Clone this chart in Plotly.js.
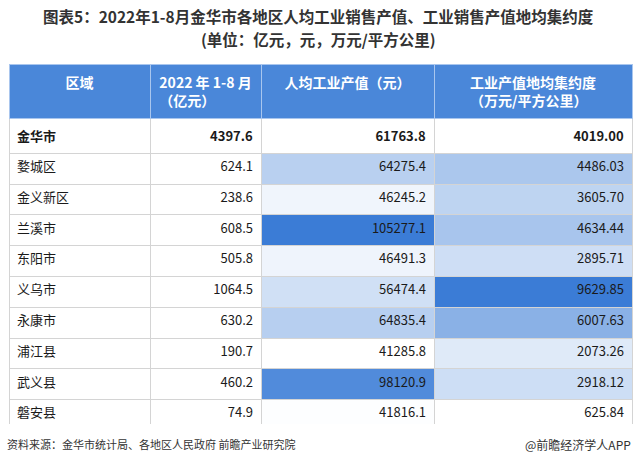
<!DOCTYPE html>
<html>
<head>
<meta charset="utf-8">
<script src="https://cdn.plot.ly/plotly-3.0.1.min.js"></script>
<style>html,body{margin:0;padding:0;background:#fff;}#chart{width:637px;height:466px;}</style>
</head>
<body>
<div id="chart"></div>
<script>
const headers = ['区域', '2022 年 1-8 月<br>（亿元）', '人均工业产值（元）', '工业产值地均集约度<br>（万元/平方公里）'];
const regions = ['金华市', '婺城区', '金义新区', '兰溪市', '东阳市', '义乌市', '永康市', '浦江县', '武义县', '磐安县'];
const salesValue = [4397.6, 624.1, 238.6, 608.5, 505.8, 1064.5, 630.2, 190.7, 460.2, 74.9];
const perCapita = [61763.8, 64275.4, 46245.2, 105277.1, 46491.3, 56474.4, 64835.4, 41285.8, 98120.9, 41816.1];
const intensity = [4019.00, 4486.03, 3605.70, 4634.44, 2895.71, 9629.85, 6007.63, 2073.26, 2918.12, 625.84];

const dark = [59, 124, 214];
function scaleColors(arr) {
  const sub = arr.slice(1);
  const mn = Math.min(...sub), mx = Math.max(...sub);
  return arr.map((v, i) => {
    if (i === 0) return '#ffffff';
    const t = (v - mn) / (mx - mn);
    const c = dark.map(d => Math.round(255 - t * (255 - d)));
    return 'rgb(' + c.join(',') + ')';
  });
}
const fmt = (arr, d) => arr.map((v, i) => i === 0 ? '<b>' + v.toFixed(d) + '</b>' : v.toFixed(d));
const regionText = regions.map((r, i) => i === 0 ? '<b>' + r + '</b>' : r);
const white = regions.map(() => '#ffffff');

const W = 637, H = 466;
const FONT = 'Noto Sans CJK SC, sans-serif';
const data = [{
  type: 'table',
  domain: {x: [9 / W, 632 / W], y: [1 - 424 / H, 1 - 64 / H]},
  columnwidth: [141, 111, 173, 198],
  header: {
    values: headers.map(h => '<b>' + h + '</b>'),
    fill: {color: '#4a87d9'},
    line: {color: '#a9c6ee', width: 1},
    align: 'center',
    height: 50,
    font: {family: FONT, size: 14, color: '#ffffff'}
  },
  cells: {
    values: [regionText, fmt(salesValue, 1), fmt(perCapita, 1), fmt(intensity, 2)],
    fill: {color: [white, white, scaleColors(perCapita), scaleColors(intensity)]},
    line: {color: '#d4d4d4', width: 1},
    align: ['left', 'right', 'right', 'right'],
    height: 30.8,
    font: {family: FONT, size: 13, color: '#1a1a1a'}
  }
}];

const layout = {
  width: W, height: H,
  margin: {l: 0, r: 0, t: 0, b: 0},
  paper_bgcolor: '#ffffff',
  annotations: [
    {text: '<b>图表5：2022年1-8月金华市各地区人均工业销售产值、工业销售产值地均集约度</b>', xref: 'paper', yref: 'paper',
     x: 0.5, y: 1 - 16.5 / H, xanchor: 'center', yanchor: 'middle', showarrow: false,
     font: {family: FONT, size: 15.5, color: '#333333'}},
    {text: '<b>(单位：亿元，元，万元/平方公里)</b>', xref: 'paper', yref: 'paper',
     x: 0.5, y: 1 - 39.5 / H, xanchor: 'center', yanchor: 'middle', showarrow: false,
     font: {family: FONT, size: 15.5, color: '#333333'}},
    {text: '资料来源：金华市统计局、各地区人民政府 前瞻产业研究院', xref: 'paper', yref: 'paper',
     x: 5 / W, y: 1 - 444 / H, xanchor: 'left', yanchor: 'middle', showarrow: false,
     font: {family: FONT, size: 11, color: '#333333'}},
    {text: '@前瞻经济学人APP', xref: 'paper', yref: 'paper',
     x: 633 / W, y: 1 - 444 / H, xanchor: 'right', yanchor: 'middle', showarrow: false,
     font: {family: FONT, size: 12, color: '#333333'}}
  ]
};
Plotly.newPlot('chart', data, layout, {displayModeBar: false, staticPlot: true});
</script>
</body>
</html>
